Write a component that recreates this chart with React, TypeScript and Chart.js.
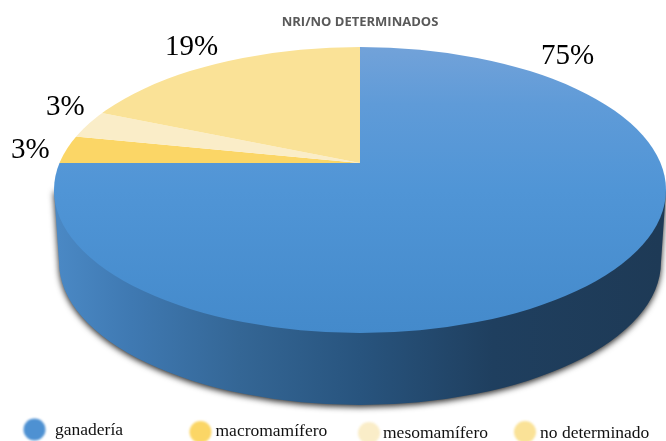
import React, { useEffect, useRef } from "react";
import { Chart, registerables } from "chart.js";

Chart.register(...registerables);

const categories = ["ganadería", "macromamífero", "mesomamífero", "no determinado"];
const values = [75, 3, 3, 19];
const sliceColors = ["#4E91D2", "#FBD666", "#FAEDC8", "#FAE297"];
const chartTitle = "NRI/NO DETERMINADOS";

const SERIF = '"Liberation Serif", serif';
const apex = { x: 360, y: 163 };
const reach = { x: 360, y: 176 };
const top = { x: 360, y: 190, rx: 306, ry: 143 };
const base = { x: 360, y: 262, rx: 301, ry: 143 };
const percentPlaces = [
  { x: 541, y: 64 },
  { x: 11, y: 158 },
  { x: 46, y: 115 },
  { x: 165, y: 55 },
];
const legendPlaces = [
  { cx: 34.5, cy: 429.5, tx: 55, ty: 435 },
  { cx: 200.5, cy: 432, tx: 215.5, ty: 436 },
  { cx: 369, cy: 433, tx: 383, ty: 438 },
  { cx: 525, cy: 432, tx: 540, ty: 438 },
];

const pie3d = {
  id: "pie3d",
  beforeDatasetsDraw(chart: any) {
    const { ctx } = chart;
    const arcs = chart.getDatasetMeta(0).data;
    const first = arcs[0];
    const R = first.outerRadius;

    // side wall with its soft shadow
    ctx.save();
    const side = ctx.createLinearGradient(base.x - base.rx, 0, base.x + base.rx, 0);
    side.addColorStop(0, "#4A88C4");
    side.addColorStop(0.12, "#3F79B2");
    side.addColorStop(0.3, "#346695");
    side.addColorStop(0.5, "#28547E");
    side.addColorStop(0.72, "#1F3F5F");
    side.addColorStop(1, "#1E3A56");
    ctx.shadowColor = "rgba(0,0,0,0.85)";
    ctx.shadowBlur = 6;
    ctx.shadowOffsetX = 0;
    ctx.shadowOffsetY = 2;
    ctx.fillStyle = side;
    ctx.beginPath();
    ctx.moveTo(top.x - top.rx, top.y);
    ctx.lineTo(base.x - base.rx, base.y);
    ctx.ellipse(base.x, base.y, base.rx, base.ry, 0, Math.PI, 0, true);
    ctx.lineTo(top.x + top.rx, top.y);
    ctx.closePath();
    ctx.fill();
    ctx.restore();

    // sliced top face: library arcs, squashed around the apex and trimmed to the rim
    const toLocal = (dev: number) => first.y + ((dev - apex.y) * R) / reach.y;
    const sheen = ctx.createLinearGradient(0, toLocal(top.y - top.ry), 0, toLocal(top.y + top.ry));
    sheen.addColorStop(0, "#72A2D9");
    sheen.addColorStop(0.2, "#5F9BD8");
    sheen.addColorStop(0.5, "#5095D6");
    sheen.addColorStop(1, "#448ACB");
    first.options = { ...first.options, backgroundColor: sheen };

    ctx.save();
    ctx.beginPath();
    ctx.ellipse(top.x, top.y, top.rx, top.ry, 0, 0, Math.PI * 2);
    ctx.clip();
    ctx.translate(apex.x, apex.y);
    ctx.scale(reach.x / R, reach.y / R);
    ctx.translate(-first.x, -first.y);
  },
  afterDatasetsDraw(chart: any) {
    const { ctx } = chart;
    ctx.restore();

    const data = chart.data.datasets[0].data;
    ctx.save();
    ctx.fillStyle = "#000000";
    ctx.textAlign = "left";
    ctx.textBaseline = "alphabetic";
    ctx.font = `29px ${SERIF}`;
    data.forEach((v: number, i: number) => {
      ctx.fillText(`${v}%`, percentPlaces[i].x, percentPlaces[i].y);
    });

    ctx.font = `17.5px ${SERIF}`;
    chart.data.labels.forEach((label: string, i: number) => {
      const p = legendPlaces[i];
      ctx.save();
      ctx.filter = "blur(0.8px)";
      ctx.fillStyle = chart.data.datasets[0].backgroundColor[i];
      ctx.beginPath();
      ctx.arc(p.cx, p.cy, 11, 0, Math.PI * 2);
      ctx.fill();
      ctx.restore();
      ctx.fillStyle = "#111111";
      ctx.fillText(label, p.tx, p.ty);
    });
    ctx.restore();
  },
};

export default function App() {
  const ref = useRef<HTMLCanvasElement>(null);
  useEffect(() => {
    const chart = new Chart(ref.current!, {
      type: "pie",
      data: {
        labels: categories,
        datasets: [
          {
            data: values,
            backgroundColor: sliceColors,
            borderWidth: 0,
            clip: false,
          } as any,
        ],
      },
      options: {
        responsive: false,
        animation: false,
        layout: { padding: { left: 54, top: 14 } },
        plugins: {
          legend: { display: false },
          tooltip: { enabled: false },
          title: {
            display: true,
            text: chartTitle,
            fullSize: false,
            color: "#595959",
            font: { family: '"Open Sans", sans-serif', size: 13, weight: "bold" },
            padding: { top: 0, bottom: 4 },
          },
        },
      },
      plugins: [pie3d],
    } as any);
    return () => chart.destroy();
  }, []);
  return (
    <div style={{ position: "absolute", left: 0, top: 0, width: 666, height: 441, background: "#fff" }}>
      <canvas ref={ref} width={666} height={441} style={{ display: "block" }} />
    </div>
  );
}
